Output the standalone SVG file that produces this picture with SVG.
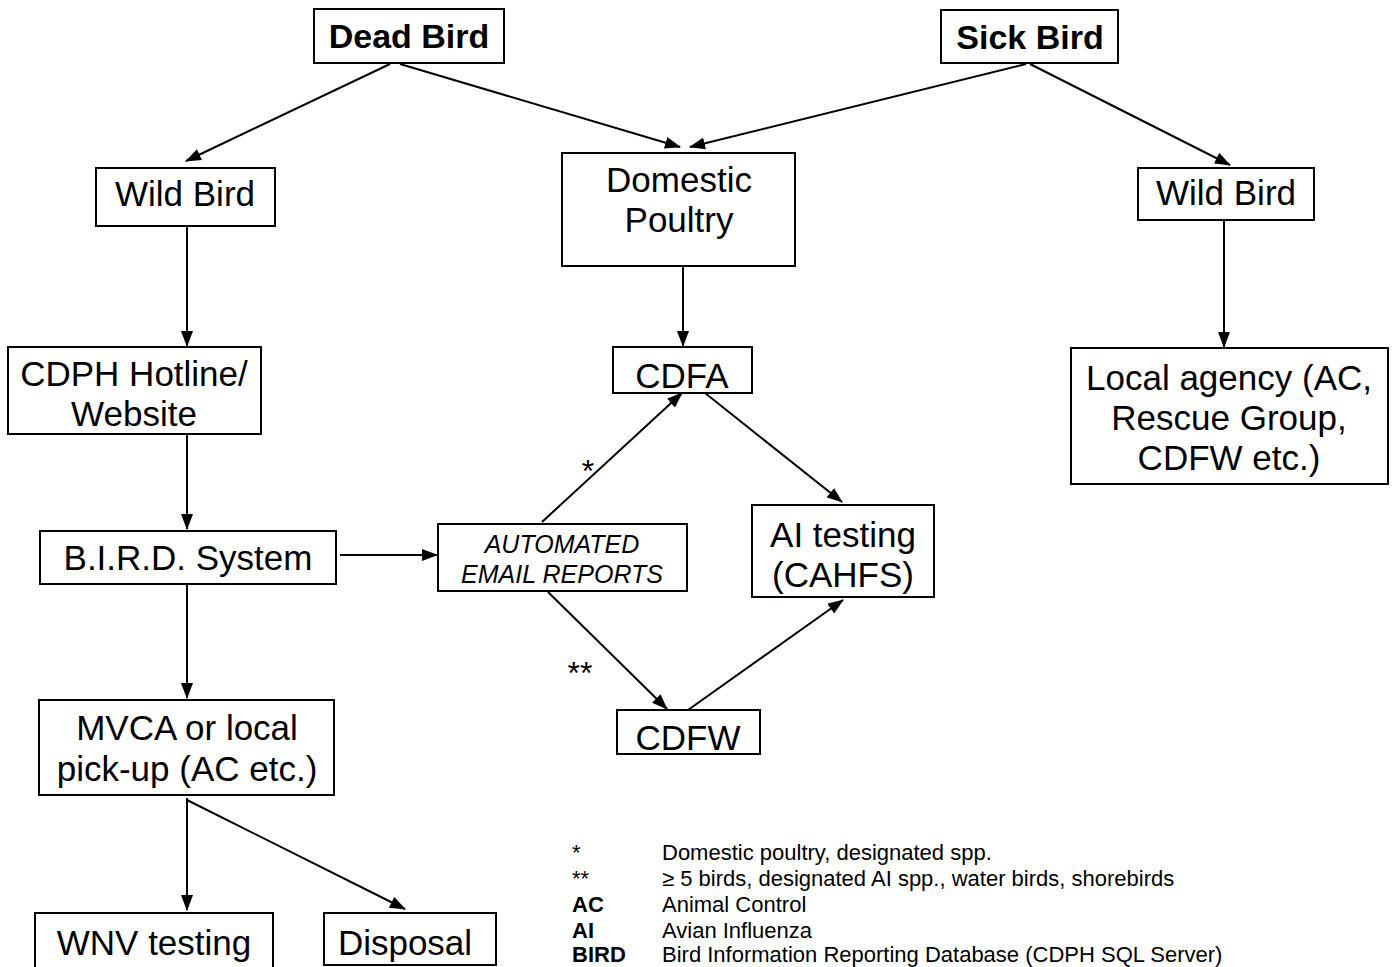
<svg xmlns="http://www.w3.org/2000/svg" width="1394" height="967" viewBox="0 0 1394 967">
<style>
.box{fill:#fff;stroke:#000;stroke-width:2}
.t{font-family:"Liberation Sans",Arial,sans-serif;font-size:35px;fill:#000;text-anchor:middle}
.b{font-weight:bold}
.hd{font-size:34px}
.it{font-style:italic;font-size:25px}
.c{stroke:#000;stroke-width:2;fill:none;marker-end:url(#ah)}
.lg{font-family:"Liberation Sans",Arial,sans-serif;font-size:22px;fill:#000}
.star{font-family:"Liberation Sans",Arial,sans-serif;font-size:32px;fill:#000}
</style>
<defs>
<marker id="ah" markerWidth="16" markerHeight="12" refX="15" refY="6" orient="auto" markerUnits="userSpaceOnUse">
<path d="M0,0 L16,6 L0,12 Z" fill="#000"/>
</marker>
</defs>
<rect width="1394" height="967" fill="#fff"/>
<g id="connectors">
<line class="c" x1="390" y1="64" x2="186" y2="161"/>
<line class="c" x1="400" y1="64" x2="680" y2="147"/>
<line class="c" x1="1026" y1="64" x2="690" y2="147"/>
<line class="c" x1="1030" y1="64" x2="1230" y2="165"/>
<line class="c" x1="187" y1="226" x2="187" y2="346"/>
<line class="c" x1="683" y1="266" x2="683" y2="346"/>
<line class="c" x1="1224" y1="220" x2="1224" y2="347"/>
<line class="c" x1="187" y1="434" x2="187" y2="529"/>
<line class="c" x1="705" y1="393" x2="842" y2="502"/>
<line class="c" x1="340" y1="555" x2="437" y2="555"/>
<line class="c" x1="542" y1="522" x2="682" y2="393"/>
<line class="c" x1="548" y1="592" x2="667" y2="709"/>
<line class="c" x1="688" y1="710" x2="843" y2="600"/>
<line class="c" x1="187" y1="584" x2="187" y2="698"/>
<line class="c" x1="187" y1="798" x2="187" y2="910"/>
<line class="c" x1="187" y1="800" x2="405" y2="909"/>
<text class="star" x="588" y="482" text-anchor="middle">*</text>
<text class="star" x="580" y="684" text-anchor="middle">**</text>
</g>
<g id="dead-bird"><rect class="box" x="314" y="9" width="190" height="54"/><text class="t b hd" x="409" y="48">Dead Bird</text></g>
<g id="sick-bird"><rect class="box" x="941" y="10" width="177" height="53"/><text class="t b hd" x="1030" y="49">Sick Bird</text></g>
<g id="wild-bird-left"><rect class="box" x="96" y="168" width="179" height="58"/><text class="t" x="185" y="206">Wild Bird</text></g>
<g id="domestic-poultry"><rect class="box" x="562" y="153" width="233" height="113"/><text class="t" x="679" y="192">Domestic</text><text class="t" x="679" y="232">Poultry</text></g>
<g id="wild-bird-right"><rect class="box" x="1138" y="168" width="176" height="52"/><text class="t" x="1226" y="205">Wild Bird</text></g>
<g id="cdph"><rect class="box" x="8" y="347" width="253" height="87"/><text class="t" x="134" y="386">CDPH Hotline/</text><text class="t" x="134" y="426">Website</text></g>
<g id="cdfa"><rect class="box" x="613" y="347" width="139" height="46"/><text class="t" x="682" y="388">CDFA</text></g>
<g id="local-agency"><rect class="box" x="1071" y="348" width="317" height="136"/><text class="t" x="1229" y="390">Local agency (AC,</text><text class="t" x="1229" y="430">Rescue Group,</text><text class="t" x="1229" y="470">CDFW etc.)</text></g>
<g id="bird-system"><rect class="box" x="40" y="531" width="296" height="53"/><text class="t" x="188" y="570">B.I.R.D. System</text></g>
<g id="email-reports"><rect class="box" x="438" y="524" width="249" height="67"/><text class="t it" x="562" y="553">AUTOMATED</text><text class="t it" x="562" y="583">EMAIL REPORTS</text></g>
<g id="ai-testing"><rect class="box" x="752" y="505" width="182" height="92"/><text class="t" x="843" y="547">AI testing</text><text class="t" x="843" y="587">(CAHFS)</text></g>
<g id="cdfw"><rect class="box" x="617" y="710" width="143" height="44"/><text class="t" x="688" y="750">CDFW</text></g>
<g id="mvca"><rect class="box" x="39" y="700" width="295" height="95"/><text class="t" x="187" y="740">MVCA or local</text><text class="t" x="187" y="781">pick-up (AC etc.)</text></g>
<g id="wnv-testing"><rect class="box" x="35" y="913" width="238" height="60"/><text class="t" x="154" y="955">WNV testing</text></g>
<g id="disposal"><rect class="box" x="324" y="913" width="172" height="52"/><text class="t" x="405" y="955">Disposal</text></g>
<g id="legend">
<text class="lg" x="572" y="860">*</text><text class="lg" x="662" y="860">Domestic poultry, designated spp.</text>
<text class="lg" x="572" y="886">**</text><text class="lg" x="662" y="886">≥ 5 birds, designated AI spp., water birds, shorebirds</text>
<text class="lg b" x="572" y="912">AC</text><text class="lg" x="662" y="912">Animal Control</text>
<text class="lg b" x="572" y="938">AI</text><text class="lg" x="662" y="938">Avian Influenza</text>
<text class="lg b" x="572" y="962">BIRD</text><text class="lg" x="662" y="962">Bird Information Reporting Database (CDPH SQL Server)</text>
</g>
</svg>
